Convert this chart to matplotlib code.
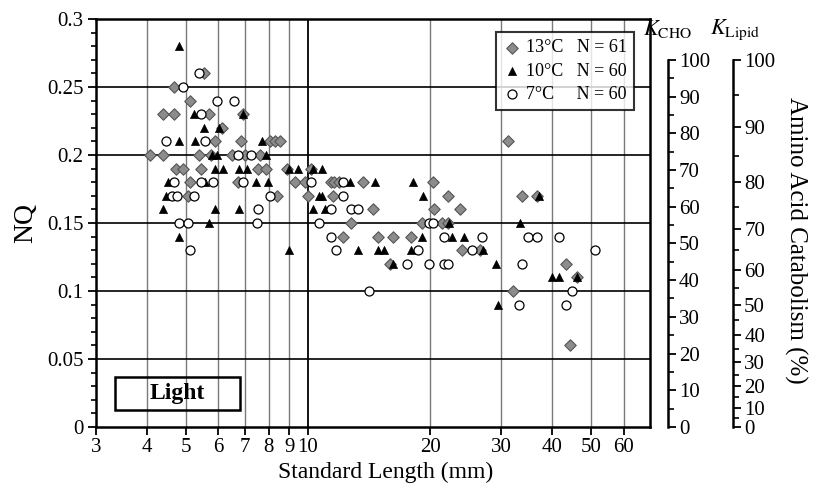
import numpy as np
import matplotlib
matplotlib.use("Agg")
import matplotlib.pyplot as plt
from matplotlib.ticker import FixedLocator, NullLocator, MultipleLocator
from matplotlib.patches import Rectangle

plt.rcParams["font.family"] = ["Liberation Serif", "DejaVu Serif"]
plt.rcParams["mathtext.fontset"] = "stix"

# 13 C (gray diamonds)
x13 = [5.54, 4.67, 5.12,
       4.39, 4.67, 5.70, 6.91,
       6.14,
       5.90, 6.83, 8.06, 8.29, 8.53, 31.1,
       4.08, 4.39, 5.39, 5.75, 6.49, 6.99, 7.61,
       4.72, 4.92, 5.44, 7.53, 7.88, 8.9, 10.17,
       5.12, 6.72, 9.29, 9.83, 11.4, 11.6, 11.9, 13.7, 20.3,
       5.06, 8.39, 10.0, 11.5, 22.1, 33.7, 36.7,
       14.5, 20.4, 23.7,
       12.8, 19.1, 21.4, 22.1,
       12.2, 14.9, 16.2, 17.9,
       24.0, 26.6,
       15.9, 43.3,
       46.1,
       32.0,
       44.3]
nq13 = [0.26, 0.25, 0.24,
        0.23, 0.23, 0.23, 0.23,
        0.22,
        0.21, 0.21, 0.21, 0.21, 0.21, 0.21,
        0.20, 0.20, 0.20, 0.20, 0.20, 0.20, 0.20,
        0.19, 0.19, 0.19, 0.19, 0.19, 0.19, 0.19,
        0.18, 0.18, 0.18, 0.18, 0.18, 0.18, 0.18, 0.18, 0.18,
        0.17, 0.17, 0.17, 0.17, 0.17, 0.17, 0.17,
        0.16, 0.16, 0.16,
        0.15, 0.15, 0.15, 0.15,
        0.14, 0.14, 0.14, 0.14,
        0.13, 0.13,
        0.12, 0.12,
        0.11,
        0.10,
        0.06]

# 10 C (black triangles)
x10 = [4.81,
       5.23, 6.91,
       5.54, 6.03,
       4.81, 5.26, 7.70,
       5.80, 5.96, 7.9,
       5.90, 6.17, 6.76, 7.07, 8.98, 9.44, 10.28, 10.83,
       4.51, 5.57, 7.44, 7.97, 12.7, 14.6, 18.2,
       4.46, 10.64, 10.83, 19.2, 37.1,
       4.39, 5.90, 6.76, 10.28, 11.0,
       5.70, 22.3, 33.3,
       4.81, 19.1, 22.6, 24.2,
       8.98, 13.3, 14.9, 15.4, 17.9, 27.0,
       16.2, 29.1,
       40.0, 41.6, 46.1,
       29.4]
nq10 = [0.28,
        0.23, 0.23,
        0.22, 0.22,
        0.21, 0.21, 0.21,
        0.20, 0.20, 0.20,
        0.19, 0.19, 0.19, 0.19, 0.19, 0.19, 0.19, 0.19,
        0.18, 0.18, 0.18, 0.18, 0.18, 0.18, 0.18,
        0.17, 0.17, 0.17, 0.17, 0.17,
        0.16, 0.16, 0.16, 0.16, 0.16,
        0.15, 0.15, 0.15,
        0.14, 0.14, 0.14, 0.14,
        0.13, 0.13, 0.13, 0.13, 0.13, 0.13,
        0.12, 0.12,
        0.11, 0.11, 0.11,
        0.09]

# 7 C (open circles)
x7 = [5.39, 4.92, 5.96, 6.57, 5.44,
      4.46, 5.57,
      6.72, 7.23,
      4.67, 5.44, 5.83, 6.91, 10.17, 12.2,
      4.62, 4.75, 5.23, 8.06, 12.2,
      7.53, 11.4, 12.8, 13.3,
      4.81, 5.06, 7.48, 10.64, 19.9, 20.3,
      11.4, 21.6, 26.9, 34.9, 36.7, 41.6,
      5.12, 11.7, 18.7, 25.4, 51.0,
      17.5, 19.9, 21.6, 22.1, 33.7,
      14.1, 44.8,
      33.2, 43.3]
nq7 = [0.26, 0.25, 0.24, 0.24, 0.23,
       0.21, 0.21,
       0.20, 0.20,
       0.18, 0.18, 0.18, 0.18, 0.18, 0.18,
       0.17, 0.17, 0.17, 0.17, 0.17,
       0.16, 0.16, 0.16, 0.16,
       0.15, 0.15, 0.15, 0.15, 0.15, 0.15,
       0.14, 0.14, 0.14, 0.14, 0.14, 0.14,
       0.13, 0.13, 0.13, 0.13, 0.13,
       0.12, 0.12, 0.12, 0.12, 0.12,
       0.10, 0.10,
       0.09, 0.09]

xticks = [3, 4, 5, 6, 7, 8, 9, 10, 20, 30, 40, 50, 60]
yticks = [0, 0.05, 0.1, 0.15, 0.2, 0.25, 0.3]
ylabels = ["0", "0.05", "0.1", "0.15", "0.2", "0.25", "0.3"]
k_ticks = list(range(0, 101, 10))

fig = plt.figure(figsize=(8.16, 4.91), dpi=100)
ax = fig.add_axes([0.1176, 0.1303, 0.6789, 0.8310])

ax.set_xscale("log")
ax.set_xlim(3, 69.7)
ax.set_ylim(0, 0.3)

# grid
for xv in xticks[1:]:
    if xv == 10:
        ax.axvline(xv, color="black", lw=1.3, zorder=1)
    else:
        ax.axvline(xv, color="#7a7a7a", lw=1.0, zorder=1)
for yv in yticks[1:-1]:
    ax.axhline(yv, color="black", lw=1.2, zorder=1)

ax.scatter(x13, nq13, marker="D", s=34, color="#8c8c8c", edgecolor="#555555",
           linewidth=0.8, zorder=3, label="13\u00b0C   N = 61")
ax.scatter(x10, nq10, marker="^", s=34, color="black", edgecolor="black",
           linewidth=0.5, zorder=3, label="10\u00b0C   N = 60")
ax.scatter(x7, nq7, marker="o", s=42, color="white", edgecolor="black",
           linewidth=0.9, zorder=3, label="7\u00b0C     N = 60")

ax.xaxis.set_major_locator(FixedLocator(xticks))
ax.xaxis.set_minor_locator(NullLocator())
ax.set_xticklabels([str(v) for v in xticks])
ax.set_yticks(yticks)
ax.set_yticklabels(ylabels)
ax.yaxis.set_minor_locator(MultipleLocator(0.01))
ax.tick_params(axis="both", which="major", direction="out", length=6, width=1.3,
               labelsize=15, colors="black")
ax.tick_params(axis="y", which="minor", direction="out", length=3.5, width=1.2)
ax.tick_params(axis="x", pad=2)
ax.tick_params(axis="y", pad=3)
for s in ax.spines.values():
    s.set_linewidth(1.8)

ax.set_xlabel("Standard Length (mm)", fontsize=17, labelpad=3)
ax.xaxis.set_label_coords(0.522, -0.085)
ax.set_ylabel("NQ", fontsize=20, labelpad=6)

leg = ax.legend(loc="upper right", bbox_to_anchor=(0.972, 0.968), fontsize=13,
                frameon=True, fancybox=False, edgecolor="black", handletextpad=0.3,
                handlelength=1.0, borderpad=0.4, labelspacing=0.35, borderaxespad=0)
leg.get_frame().set_linewidth(1.5)

# Light box
ax.add_patch(Rectangle((0.034, 0.042), 0.226, 0.08, transform=ax.transAxes,
                       fill=False, edgecolor="black", lw=1.8, zorder=4))
ax.text(0.147, 0.082, "Light", transform=ax.transAxes, ha="center", va="center",
        fontsize=17, fontweight="bold", zorder=5)

# K_CHO axis (linear)
ax2 = ax.twinx()
ax2.set_ylim(0, 30 / 0.27)
for name, s in ax2.spines.items():
    s.set_visible(name == "right")
ax2.spines["right"].set_position(("axes", 1.0325))
ax2.spines["right"].set_bounds(0, 100)
ax2.spines["right"].set_linewidth(1.8)
ax2.set_yticks(k_ticks)
ax2.yaxis.set_minor_locator(FixedLocator(list(range(5, 100, 10))))
ax2.tick_params(axis="y", which="major", direction="out", length=6, width=1.3,
                labelsize=15, pad=2)
ax2.tick_params(axis="y", which="minor", direction="out", length=4, width=1.2)

# K_Lipid axis (nonlinear)
ax3 = ax.twinx()
ax3.set_ylim(0, 0.3)
for name, s in ax3.spines.items():
    s.set_visible(name == "right")
ax3.spines["right"].set_position(("axes", 1.150))
ax3.spines["right"].set_bounds(0, 0.27)
ax3.spines["right"].set_linewidth(1.8)
k = np.array(k_ticks, dtype=float)
ax3.set_yticks(0.27 * k / (200 - k))
ax3.set_yticklabels([str(v) for v in k_ticks])
km = np.arange(5, 100, 10, dtype=float)
ax3.yaxis.set_minor_locator(FixedLocator(0.27 * km / (200 - km)))
ax3.tick_params(axis="y", which="major", direction="out", length=6, width=1.3,
                labelsize=15, pad=2)
ax3.tick_params(axis="y", which="minor", direction="out", length=4, width=1.2)

fig.text(0.818, 0.94, r"$K_{\mathrm{CHO}}$", fontsize=16, ha="center", va="center")
fig.text(0.901, 0.94, r"$K_{\mathrm{Lipid}}$", fontsize=16, ha="center", va="center")
fig.text(0.975, 0.51, "Amino Acid Catabolism (%)", rotation=270, fontsize=18,
         ha="center", va="center")

fig.savefig("out.png", dpi=100)
